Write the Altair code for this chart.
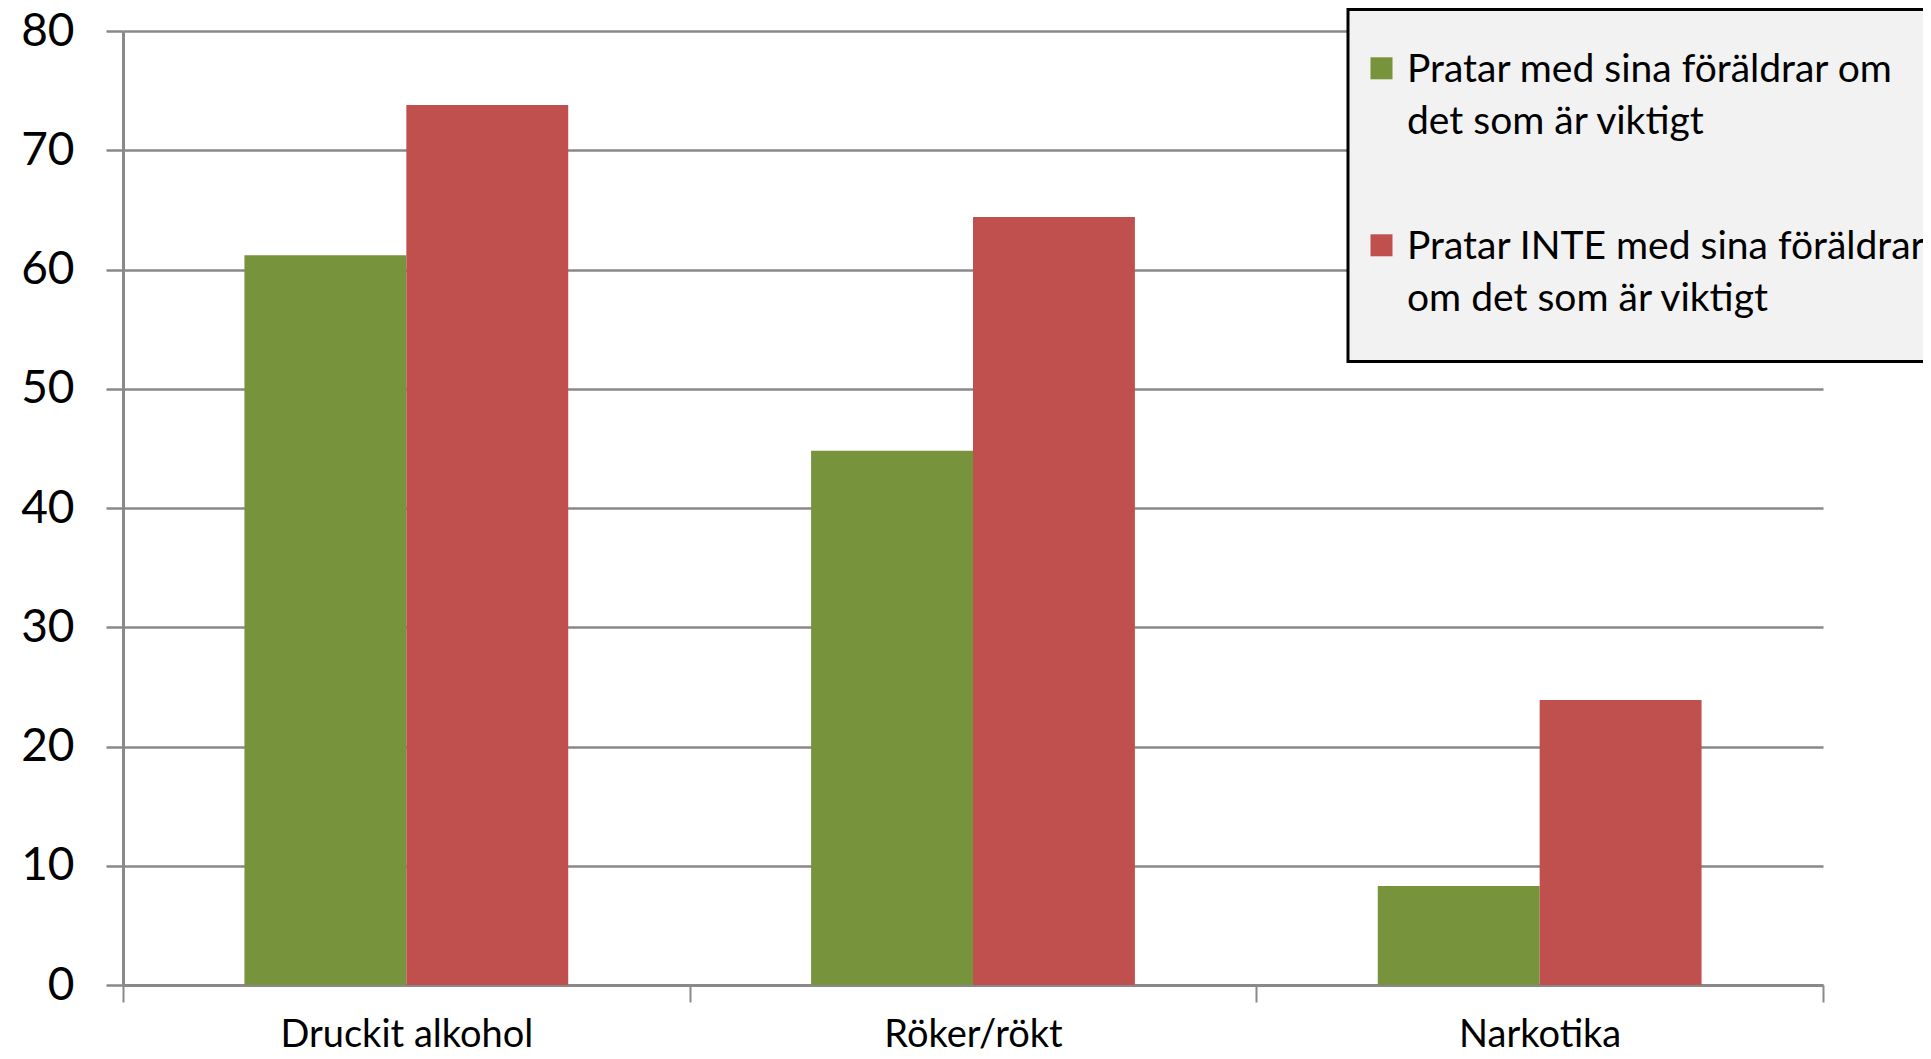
import altair as alt
import pandas as pd

categories = ["Druckit alkohol", "Röker/rökt", "Narkotika"]
series = [
    "Pratar med sina föräldrar om|det som är viktigt",
    "Pratar INTE med sina föräldrar|om det som är viktigt",
]
green_values = [61.2, 44.8, 8.3]
red_values = [73.8, 64.4, 23.9]
colors = ["#77933C", "#C0504D"]
y_ticks = [0, 10, 20, 30, 40, 50, 60, 70, 80]

rows = []
for cat, g, r in zip(categories, green_values, red_values):
    rows.append({"category": cat, "series": series[0], "value": g})
    rows.append({"category": cat, "series": series[1], "value": r})
df = pd.DataFrame(rows)

FONT = "Lato"
GRAY = "#898989"
LEG_PAD = 43

chart = (
    alt.Chart(df)
    .mark_bar()
    .encode(
        x=alt.X(
            "category:N",
            sort=categories,
            scale=alt.Scale(paddingInner=0, paddingOuter=0),
            axis=alt.Axis(
                title=None,
                labelAngle=0,
                tickBand="extent",
                grid=False,
                domainColor=GRAY,
                domainWidth=3,
                tickColor=GRAY,
                tickWidth=2,
                tickSize=17,
                labelFont=FONT,
                labelFontSize=38,
                labelColor="#000000",
                labelPadding=14,
                labelLimit=1000,
            ),
        ),
        xOffset=alt.XOffset(
            "series:N", sort=series, scale=alt.Scale(paddingInner=0, paddingOuter=0.75)
        ),
        y=alt.Y(
            "value:Q",
            scale=alt.Scale(domain=[0, 80], nice=False),
            axis=alt.Axis(
                values=y_ticks,
                title=None,
                grid=True,
                gridColor=GRAY,
                gridWidth=2.5,
                domainColor=GRAY,
                domainWidth=3,
                tickColor=GRAY,
                tickWidth=2.5,
                tickSize=17,
                labelFont=FONT,
                labelFontSize=46,
                labelColor="#000000",
                labelPadding=32,
            ),
        ),
        color=alt.Color(
            "series:N",
            sort=series,
            scale=alt.Scale(domain=series, range=colors),
            legend=alt.Legend(
                title=" ",
                titleFontSize=5,
                titlePadding=4.5,
                orient="none",
                legendX=1225,
                legendY=-21.5,
                fillColor="#f2f2f2",
                strokeColor="#000000",
                padding=LEG_PAD,
                symbolType="M-1,-2.2H1V-0.2H-1Z",
                symbolSize=484,
                symbolStrokeWidth=0,
                symbolOffset={"expr": str(14 - LEG_PAD)},
                labelFont=FONT,
                labelFontSize=39,
                labelColor="#000000",
                labelOffset=6,
                labelLimit=1000,
                labelBaseline="alphabetic",
                rowPadding=85,
                labelExpr="split(datum.label, '|')",
            ),
        ),
    )
    .properties(
        width=1700,
        height=954,
        autosize=alt.AutoSizeParams(type="none"),
        padding={"left": 115, "top": 23, "right": 100, "bottom": 66},
    )
    .configure(style={"guide-label": {"lineHeight": 52}})
    .configure_view(stroke=None, strokeWidth=0, strokeOpacity=0)
    .configure_legend(strokeWidth=3)
)

chart.save("out.html", embed_options={"renderer": "svg", "actions": False})
